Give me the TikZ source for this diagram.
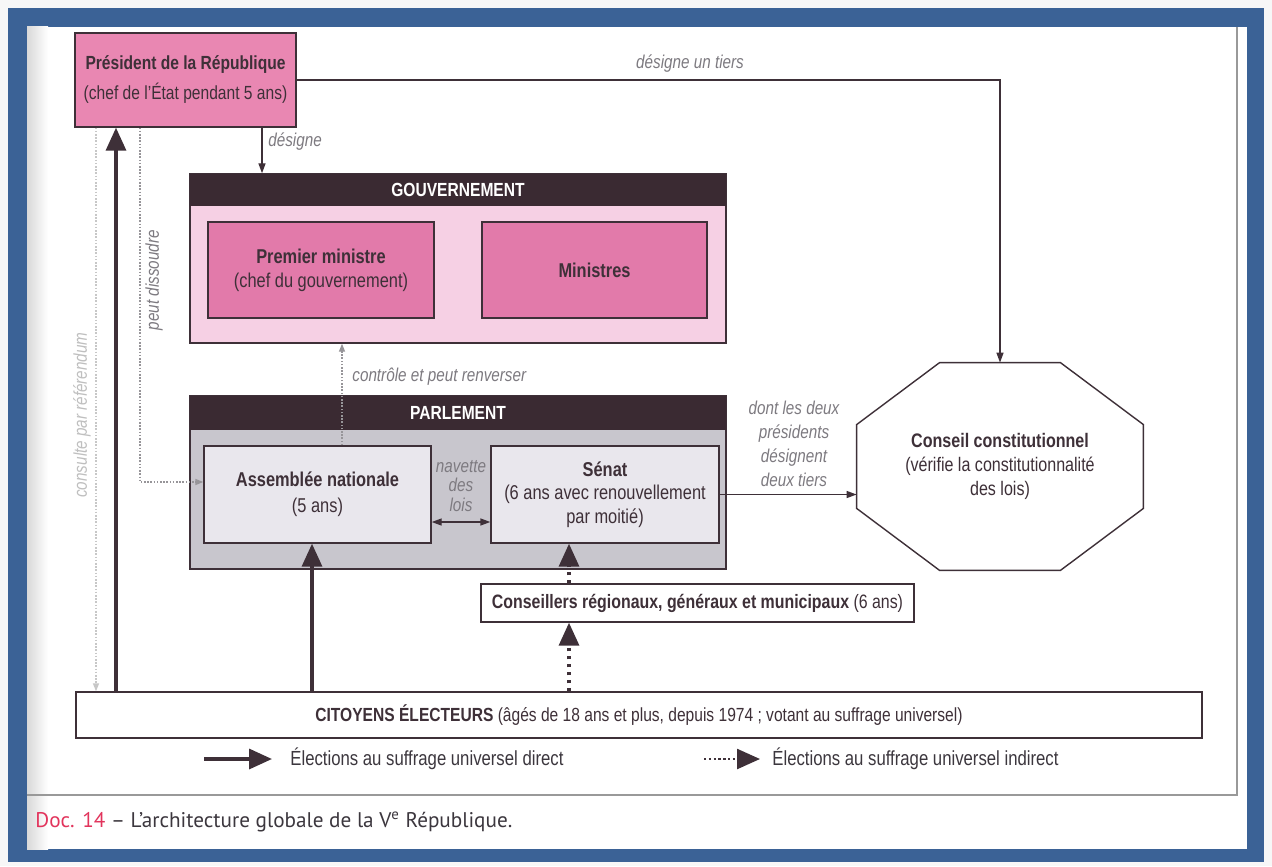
\documentclass[tikz,border=0pt]{standalone}
\usepackage{fontspec}
\setmainfont{Liberation Sans}[FakeStretch=0.82]
\newfontfamily\legendefont{PT Sans}
\usetikzlibrary{arrows.meta}

\definecolor{cadre}{RGB}{59,98,150}
\definecolor{fondnoir}{RGB}{58,42,50}
\definecolor{rosepres}{RGB}{233,135,178}
\definecolor{roseboite}{RGB}{226,122,170}
\definecolor{rosefond}{RGB}{246,208,228}
\definecolor{grisfond}{RGB}{200,198,205}
\definecolor{grisboite}{RGB}{233,231,237}
\definecolor{trait}{RGB}{62,48,56}
\definecolor{gristexte}{RGB}{125,122,128}
\definecolor{rouge}{RGB}{226,52,92}
\definecolor{legende}{RGB}{60,55,62}

\begin{document}
\begin{tikzpicture}[x=0.5pt,y=-0.5pt,
    boite/.style={draw=trait,line width=0.7pt,text=trait,align=center,inner sep=0pt,
      font=\fontsize{10}{12}\selectfont},
    groupe/.style={draw=trait,line width=0.7pt,minimum width=268pt,inner sep=0pt},
    titre/.style={fill=fondnoir,text=white,minimum width=268pt,anchor=north,inner sep=0pt,
      font=\bfseries\fontsize{9.5}{11}\selectfont},
    note/.style={text=gristexte,align=center,inner sep=0pt,font=\itshape\fontsize{9.3}{9.75}\selectfont},
    fin/.style={draw=trait,line width=0.7pt,-{Triangle[length=5pt,width=3.5pt]}},
    gros/.style={draw=trait,line width=1.7pt,-{Triangle[length=11.5pt,width=10pt]}},
    grospoint/.style={gros,dash pattern=on 1.7pt off 2.3pt},
    tenu/.style={draw=gristexte!80,line width=0.7pt,dash pattern=on 0.8pt off 0.8pt,
      -{Triangle[length=4pt,width=3pt]}}]

    \useasboundingbox (0,0) rectangle (1272,866);
    \fill[black!3] (0,0) rectangle (1272,866);
    \fill[cadre] (8,8) rectangle (1264,862);
    \fill[white] (27,27) rectangle (1247,849);
    \shade[left color=black!15,right color=white] (27,27) rectangle (48,849);
    \draw[black!40,line width=0.6pt] (1237,27) -- (1237,795) -- (27,795);

    \node[boite,fill=rosepres,minimum width=110.5pt,minimum height=47pt,
      font=\fontsize{9.5}{15}\selectfont] (pres) at (185.5,80)
      {\textbf{Président de la République}\\(chef de l’État pendant 5 ans)};

    \node[groupe,fill=rosefond,minimum height=84.5pt] (gouv) at (458,258.5) {};
    \node[titre,minimum height=16pt] (gouvtitre) at (gouv.north) {GOUVERNEMENT};
    \node[boite,fill=roseboite,minimum width=113pt,minimum height=48pt] (pm) at (321,270)
      {\textbf{Premier ministre}\\(chef du gouvernement)};
    \node[boite,fill=roseboite,minimum width=112.5pt,minimum height=48pt] (min) at (594.5,270)
      {\textbf{Ministres}};

    \node[groupe,fill=grisfond,minimum height=86.5pt] (parl) at (458,482.5) {};
    \node[titre,minimum height=17pt] (parltitre) at (parl.north) {PARLEMENT};
    \node[boite,fill=grisboite,minimum width=113.5pt,minimum height=48.5pt,
      font=\fontsize{10}{13}\selectfont] (an) at (317.5,494.5)
      {\textbf{Assemblée nationale}\\(5 ans)};
    \node[boite,fill=grisboite,minimum width=114pt,minimum height=48.5pt,
      font=\fontsize{10}{11.75}\selectfont] (senat) at (605,494.5)
      {\textbf{Sénat}\\(6 ans avec renouvellement\\par moitié)};
    \node[note] (navette) at (461,486) {navette\\des\\lois};

    \node[minimum width=143pt,minimum height=103.5pt,inner sep=0pt,align=center,text=trait,
      font=\fontsize{9.8}{12}\selectfont] (cc) at (1000,466.5)
      {\textbf{Conseil constitutionnel}\\(vérifie la constitutionnalité\\des lois)};
    \draw[trait,line width=0.7pt] ([xshift=41.5pt]cc.north west) -- ([xshift=-41.5pt]cc.north east)
      -- ([yshift=-31pt]cc.north east) -- ([yshift=31pt]cc.south east)
      -- ([xshift=-41.5pt]cc.south east) -- ([xshift=41.5pt]cc.south west)
      -- ([yshift=31pt]cc.south west) -- ([yshift=-31pt]cc.north west) -- cycle;

    \node[boite,fill=white,minimum width=216.5pt,minimum height=19pt,
      font=\fontsize{9.7}{11}\selectfont] (cons) at (697.5,603)
      {\textbf{Conseillers régionaux, généraux et municipaux} (6 ans)};
    \node[boite,fill=white,minimum width=563pt,minimum height=23pt,
      font=\fontsize{9.5}{11}\selectfont] (cit) at (639,715)
      {\textbf{CITOYENS ÉLECTEURS} (âgés de 18 ans et plus, depuis 1974 ; votant au suffrage universel)};

    \coordinate (xdes) at (262,0);
    \draw[fin] (pres.south -| xdes) -- (gouvtitre.north -| xdes);
    \node[note,anchor=west] (ldes) at (268,142) {désigne};

    \draw[fin] (pres.east) -| (cc.north);
    \node[note] (ltiers) at (690,64) {désigne un tiers};

    \coordinate (xctrl) at (342,0);
    \draw[tenu] (an.north -| xctrl) -- (gouv.south -| xctrl);
    \node[note,anchor=west] (lctrl) at (352,377) {contrôle et peut renverser};

    \coordinate (xdiss) at (140,482);
    \draw[tenu] (pres.south -| xdiss) |- (an.west |- xdiss);
    \node[note,rotate=90] (ldiss) at (154,280) {peut dissoudre};

    \coordinate (xref) at (96,0);
    \draw[tenu,draw=black!22] (pres.south -| xref) -- (cit.north -| xref);
    \node[note,rotate=90,text=black!25] (lref) at (82,415) {consulte par référendum};

    \coordinate (xvote) at (116,0);
    \draw[gros] (cit.north -| xvote) -- (pres.south -| xvote);
    \coordinate (xan) at (312,0);
    \draw[gros] (cit.north -| xan) -- (an.south -| xan);
    \coordinate (xsen) at (569,0);
    \draw[grospoint] (cit.north -| xsen) -- (cons.south -| xsen);
    \draw[grospoint] (cons.north -| xsen) -- (senat.south -| xsen);

    \draw[fin,{Triangle[length=5pt,width=3.5pt]}-{Triangle[length=5pt,width=3.5pt]}]
      ([yshift=-13.75pt]an.east) -- ([yshift=-13.75pt]senat.west);
    \draw[fin] (senat.east) -- (senat.east -| cc.west);
    \node[note,font=\itshape\fontsize{9.3}{12}\selectfont] (lcons) at (794,444)
      {dont les deux\\présidents\\désignent\\deux tiers};

    \coordinate (d1) at (204,759);
    \coordinate (d2) at (272,759);
    \draw[gros] (d1) -- (d2);
    \node[anchor=west,inner sep=0pt,text=legende,font=\fontsize{10.2}{11}\selectfont] (ldirect) at (290,759)
      {Élections au suffrage universel direct};
    \coordinate (i1) at (704,759);
    \coordinate (i2) at (760,759);
    \draw[gros,dash pattern=on 1.2pt off 1.2pt,line width=1.2pt] (i1) -- (i2);
    \node[anchor=west,inner sep=0pt,text=legende,font=\fontsize{10.2}{11}\selectfont] (lindirect) at (772,759)
      {Élections au suffrage universel indirect};

    \node[anchor=west,inner sep=0pt,text=legende,font=\legendefont\fontsize{10.6}{12}\selectfont] (titredoc)
      at (35,822) {\textcolor{rouge}{Doc. 14} – L’architecture globale de la V\textsuperscript{e} République.};
\end{tikzpicture}
\end{document}
